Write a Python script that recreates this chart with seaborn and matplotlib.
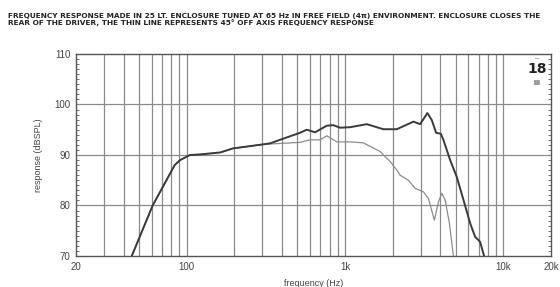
import numpy as np
import pandas as pd
import matplotlib
matplotlib.use("Agg")
import matplotlib.pyplot as plt
import seaborn as sns
from matplotlib.ticker import FixedLocator, NullFormatter, MultipleLocator

# on-axis response (thick line)
on_freq = [45, 61, 84, 91, 105, 121, 163, 196, 304, 336, 520, 573, 647, 767, 844, 931,
           1077, 1372, 1747, 2124, 2704, 2980, 3313, 3532, 3759, 4027, 4181, 4612, 5083,
           5598, 6166, 6632, 7133, 7555]
on_db = [70, 80, 88, 89, 90, 90.1, 90.5, 91.3, 92.1, 92.3, 94.4, 95.0, 94.5, 95.8, 95.9, 95.4,
         95.5, 96.1, 95.1, 95.1, 96.6, 96.1, 98.3, 96.9, 94.4, 94.2, 93.0, 89.0, 85.6,
         81.1, 76.5, 73.8, 72.8, 70]

# 45 deg off-axis response (thin line)
off_freq = [45, 61, 84, 91, 105, 121, 163, 196, 304, 520, 602, 695, 767, 887, 1077, 1306,
            1665, 1926, 2124, 2228, 2514, 2771, 3127, 3361, 3667, 3890, 4085, 4286, 4561, 4834]
off_db = [70, 80, 88, 89, 90, 90.1, 90.5, 91.3, 92.1, 92.5, 93.0, 93.0, 93.8, 92.6, 92.6, 92.4,
          90.7, 88.7, 87.0, 86.0, 85.0, 83.4, 82.7, 81.4, 77.1, 80.7, 82.4, 81.1, 76.5, 70]

x_ticks = [20, 100, 1000, 10000, 20000]
x_labels = ["20", "100", "1k", "10k", "20k"]
y_ticks = [70, 80, 90, 100, 110]
grid_freqs = [30, 40, 50, 60, 70, 80, 90, 100, 200, 300, 400, 500, 600, 700, 800, 900,
              1000, 2000, 3000, 4000, 5000, 6000, 7000, 8000, 9000, 10000]

title = ("FREQUENCY RESPONSE MADE IN 25 LT. ENCLOSURE TUNED AT 65 Hz IN FREE FIELD (4\u03c0) ENVIRONMENT. ENCLOSURE CLOSES THE\n"
         "REAR OF THE DRIVER, THE THIN LINE REPRESENTS 45\u00b0 OFF AXIS FREQUENCY RESPONSE")

sns.set_style("white")
plt.rcParams["font.family"] = ["Liberation Sans", "DejaVu Sans"]

df_on = pd.DataFrame({"freq": on_freq, "db": on_db})
df_off = pd.DataFrame({"freq": off_freq, "db": off_db})

fig = plt.figure(figsize=(5.6, 2.87), dpi=100)
ax = fig.add_axes([0.1357, 0.108, 0.8483, 0.704])

ax.set_xscale("log")
ax.set_xlim(20, 20000)
ax.set_ylim(70, 110)

for f in grid_freqs:
    ax.axvline(f, color="#8a8a8a", lw=0.9, zorder=1)
for y in [80, 90, 100]:
    ax.axhline(y, color="#8a8a8a", lw=0.9, zorder=1)

sns.lineplot(data=df_off, x="freq", y="db", ax=ax, color="#8c8c8c", lw=0.9, zorder=3)
sns.lineplot(data=df_on, x="freq", y="db", ax=ax, color="#3a3a3a", lw=1.4, zorder=4)

ax.xaxis.set_major_locator(FixedLocator(x_ticks))
ax.xaxis.set_minor_formatter(NullFormatter())
ax.xaxis.set_minor_locator(FixedLocator([]))
ax.set_xticklabels(x_labels)
ax.set_yticks(y_ticks)
ax.yaxis.set_minor_locator(MultipleLocator(1))
ax.tick_params(axis="both", which="major", length=0, labelsize=7, labelcolor="#444444", pad=4)
ax.tick_params(axis="y", which="minor", direction="in", length=2, width=0.6,
               color="#555555", left=True, right=True)

for s in ax.spines.values():
    s.set_color("#555555")
    s.set_linewidth(1.0)

ax.set_xlabel("frequency (Hz)", fontsize=6.5, color="#444444", labelpad=5)
ax.set_ylabel("response (dBSPL)", fontsize=6.5, color="#444444", labelpad=8)

fig.text(0.014, 0.955, title, fontsize=5.3, fontweight="bold", family=["Liberation Sans Narrow", "DejaVu Sans"],
         ha="left", va="top", linespacing=1.05, color="#222222")

# logo
ax.text(0.97, 0.925, "18", transform=ax.transAxes, fontsize=10, fontweight="bold",
        ha="center", va="center", color="#222222", family=["Liberation Sans Narrow", "DejaVu Sans"])
ax.text(0.97, 0.975, "\u2013", transform=ax.transAxes, fontsize=5, ha="center", va="center", color="#d04040")
ax.text(0.97, 0.86, "\u2588\u2588", transform=ax.transAxes, fontsize=3, ha="center", va="center", color="#999999")

fig.savefig("out.png", dpi=100)
